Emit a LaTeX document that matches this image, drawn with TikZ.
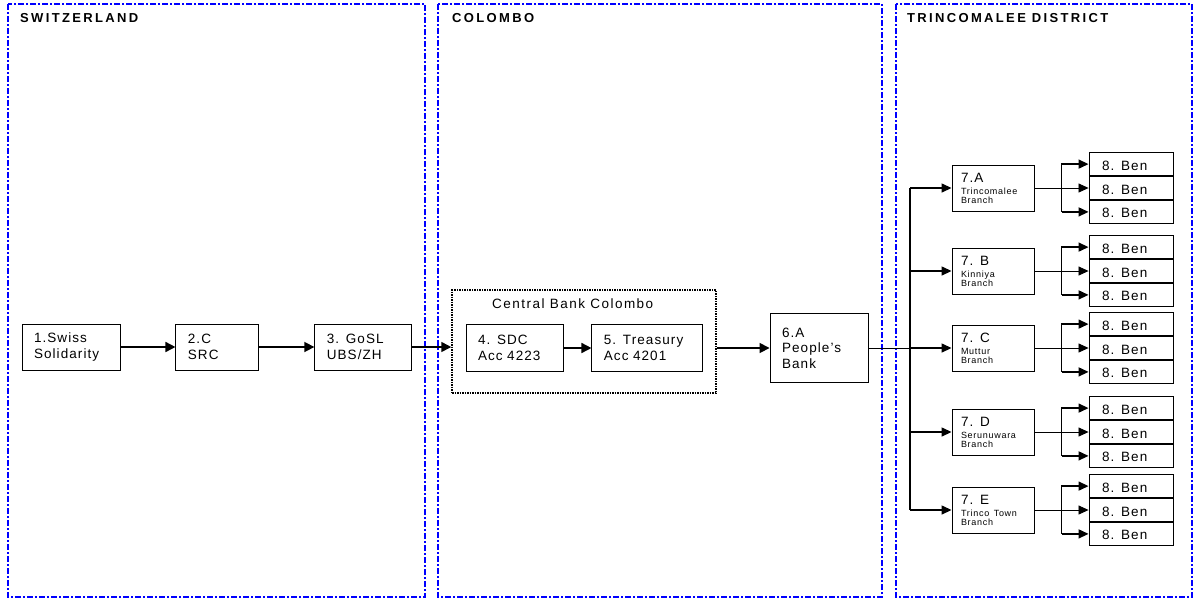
\documentclass[tikz,border=0pt]{standalone}
\usepackage{fontspec}
\setmainfont{Liberation Sans}[LetterSpace=8]
\usetikzlibrary{positioning}
\usetikzlibrary{arrows.meta}

\newcommand{\branchfont}{\fontsize{9}{9}\selectfont}

\tikzset{
    region/.style={draw=blue, line width=1.3pt, dash pattern=on 6pt off 2pt on 2pt off 2pt},
    heading/.style={anchor=base west, inner sep=0pt, font=\fontsize{13}{14}\selectfont\bfseries\addfontfeature{LetterSpace=18}},
    box/.style={draw, line width=0.9pt, align=left, inner xsep=12pt, inner ysep=0pt, text width=#1, minimum height=46pt, font=\fontsize{13.5}{15.5}\selectfont},
    branch/.style={box=64pt, inner xsep=9pt},
    ben/.style={draw, line width=0.9pt, align=left, text width=58pt, inner xsep=13pt, inner ysep=0pt, minimum height=23pt,
                text height=12pt, text depth=0pt, font=\fontsize{13.5}{15.5}\selectfont},
    bank/.style={draw, line width=1.5pt, densely dotted},
    flow/.style={line width=1.6pt, -{Triangle[length=10pt,width=10pt]}},
    fork/.style={line width=1.4pt, -{Triangle[length=10pt,width=9pt]}},
    link/.style={line width=0.8pt}
}

\begin{document}
\begin{tikzpicture}[x=1pt, y=-1pt]
    \useasboundingbox (0,0) rectangle (1194,598);

    % regions
    \draw[region] (8,4) rectangle (425,597);
    \draw[region] (438,4) rectangle (882,597);
    \draw[region] (896,4) rectangle (1192,597);
    \node[heading] (swiss) at (20,22) {SWITZERLAND};
    \node[heading] (colombo) at (452,22) {COLOMBO};
    \node[heading] (trinco) at (907,22) {TRINCOMALEE DISTRICT};

    % switzerland
    \node[box=74pt] (ss) at (71,347) {1.Swiss\\Solidarity};
    \node[box=59pt, right=55pt of ss] (src) {2.C\\SRC};
    \node[box=73pt, right=55pt of src] (gosl) {3. GoSL\\UBS/ZH};

    % colombo
    \node[bank, minimum width=264pt, minimum height=103pt] (cbc) at (584,341.5) {};
    \node[anchor=base west, inner sep=0pt, font=\fontsize{13.5}{15.5}\selectfont\addfontfeature{LetterSpace=11}] (cbclabel) at (492,308) {Central Bank Colombo};
    \node[box=73pt, minimum height=47pt] (sdc) at (514.5,348) {4. SDC\\Acc 4223};
    \node[box=87pt, minimum height=47pt, right=28pt of sdc] (trs) {5. Treasury\\Acc 4201};
    \node[box=74pt, minimum height=69pt] (pb) at (819,348) {6.A\\People's\\Bank};

    \draw[flow] (ss) -- (src);
    \draw[flow] (src) -- (gosl);
    \draw[flow] (gosl.east) -- (gosl.east -| cbc.west);
    \draw[flow] (sdc) -- (trs);
    \draw[flow] (pb.west -| cbc.east) -- (pb.west);

    % trincomalee district
    \coordinate (trunk) at (910,348);
    \foreach \b/\y/\hd/\nm in {A/188/7.A/Trincomalee, B/271/7. B/Kinniya, C/348/7. C/Muttur,
                               D/432/7. D/Serunuwara, E/510/7. E/Trinco Town}{
        \node[branch] (sev\b) at (993,\y) {\hd\\[3pt]\branchfont\nm\\[-6.5pt]\branchfont Branch};
        \node[ben] (ben\b2) at (1131,\y) {8. Ben};
        \node[ben, above=0pt of ben\b2] (ben\b1) {8. Ben};
        \node[ben, below=0pt of ben\b2] (ben\b3) {8. Ben};
        \draw[fork] (sev\b.west -| trunk) -- (sev\b.west);
        \draw[link, -{Triangle[length=10pt,width=9pt]}] (sev\b.east) -- (ben\b2.west);
        \draw[fork] (ben\b3.west) ++(-27,0) coordinate (fb\b) |- (ben\b1.west);
        \draw[fork] (fb\b) -- (ben\b3.west);
    }
    \draw[line width=1.4pt] (sevA.west -| trunk) -- (sevE.west -| trunk);
    \draw[link] (pb.east) -- (trunk);
\end{tikzpicture}
\end{document}
